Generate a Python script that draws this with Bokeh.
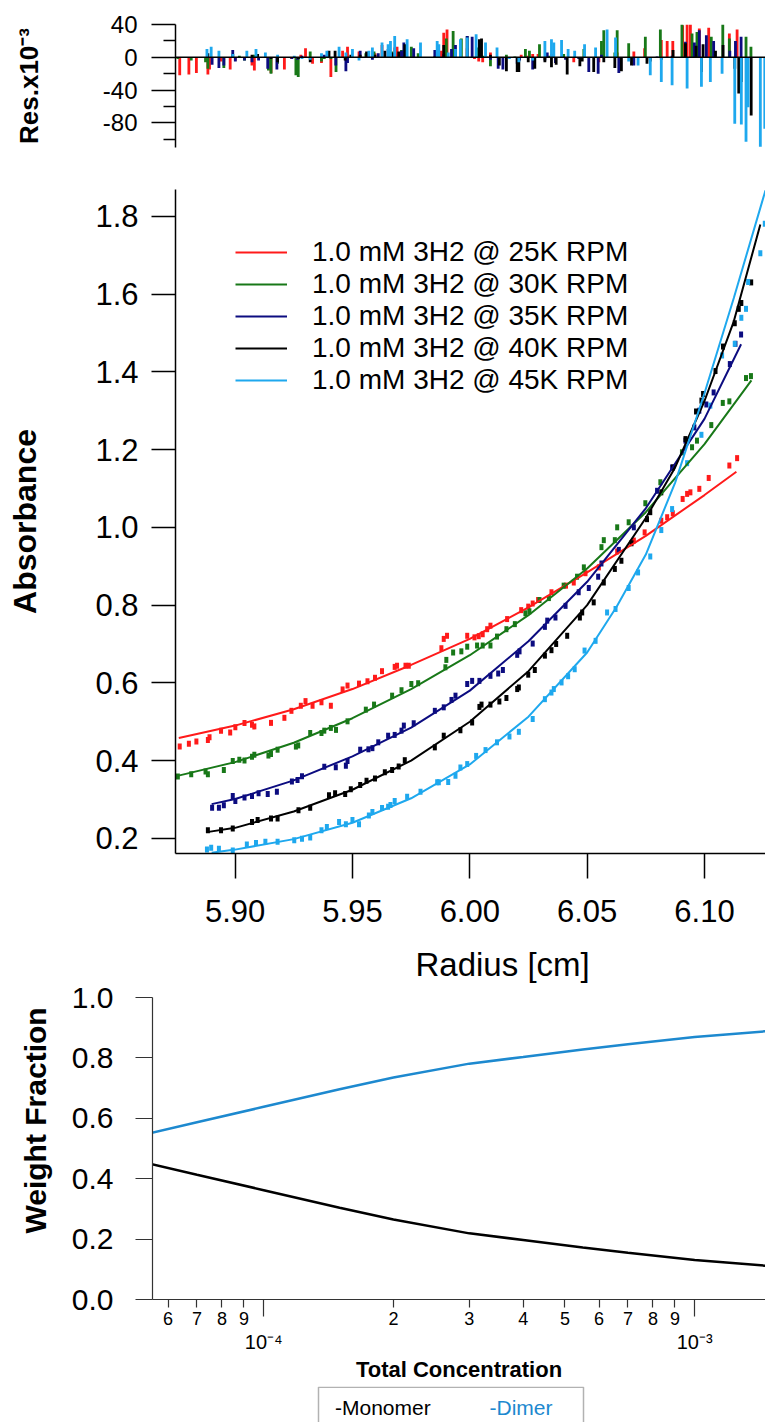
import numpy as np
from bokeh.plotting import figure
from bokeh.models import (Range1d, FixedTicker, PrintfTickFormatter, Label,
                          Legend, LegendItem, Span, LogAxis, Title,
                          BoxAnnotation, Spacer)
from bokeh.layouts import column, row
from bokeh.embed import file_html
from bokeh.resources import INLINE

FONT = "Liberation Sans"

series_labels = ["1.0 mM 3H2 @ 25K RPM", "1.0 mM 3H2 @ 30K RPM",
                 "1.0 mM 3H2 @ 35K RPM", "1.0 mM 3H2 @ 40K RPM",
                 "1.0 mM 3H2 @ 45K RPM"]
series_colors = ["#ff1a1a", "#187818", "#0c0c80", "#000000", "#1ea8ee"]

# ---------------- 25K RPM ----------------
r25_x = [5.8764, 5.8803, 5.8835, 5.8884, 5.8891, 5.8940, 5.8979, 5.9001, 5.9040, 5.9072,
         5.9082, 5.9153, 5.9210, 5.9240, 5.9280, 5.9300, 5.9330, 5.9368, 5.9408, 5.9458,
         5.9479, 5.9528, 5.9564, 5.9596, 5.9626, 5.9680, 5.9690, 5.9726, 5.9740, 5.9879,
         5.9889, 5.9903, 5.9989, 6.0020, 6.0038, 6.0055, 6.0074, 6.0088, 6.0159, 6.0219,
         6.0249, 6.0268, 6.0291, 6.0348, 6.0410, 6.0443, 6.0493, 6.0550, 6.0628, 6.0699,
         6.0745, 6.0816, 6.0841, 6.0865, 6.0907, 6.0926, 6.0940, 6.0978, 6.1018, 6.1106,
         6.1139]
r25_y = [0.436, 0.443, 0.449, 0.453, 0.460, 0.477, 0.472, 0.486, 0.497, 0.492,
         0.488, 0.497, 0.510, 0.528, 0.541, 0.553, 0.541, 0.550, 0.541, 0.583,
         0.593, 0.598, 0.604, 0.613, 0.630, 0.641, 0.644, 0.644, 0.644, 0.689,
         0.713, 0.721, 0.721, 0.717, 0.720, 0.725, 0.738, 0.747, 0.764, 0.787,
         0.796, 0.804, 0.813, 0.833, 0.850, 0.858, 0.882, 0.897, 0.938, 0.966,
         0.987, 1.017, 1.026, 1.036, 1.073, 1.086, 1.090, 1.099, 1.127, 1.159,
         1.178]
r25_res = [-22, -21, -19, -21, -15, -5, -15, -4, 0, -10,
           -16, -19, -15, -2, 3, 11, -8, -7, -24, 8,
           13, 7, 4, 5, 15, 12, 13, 4, 0, 8,
           30, 34, 11, -2, -5, -6, 1, 6, 0, 3,
           2, 4, 4, 4, -2, -6, 0, -6, 6, 7,
           11, 21, 20, 20, 39, 40, 40, 35, 36, 29,
           34]
r25_fit_x = [5.876, 5.90, 5.925, 5.95, 5.975, 6.00, 6.025, 6.05, 6.075, 6.10, 6.1136]
r25_fit_y = [0.458, 0.490, 0.532, 0.584, 0.646, 0.713, 0.794, 0.884, 0.978, 1.083, 1.143]

# ---------------- 30K RPM ----------------
r30_x = [5.8756, 5.8813, 5.8874, 5.8884, 5.8952, 5.8990, 5.9018, 5.9040, 5.9072, 5.9082,
         5.9142, 5.9153, 5.9181, 5.9259, 5.9269, 5.9320, 5.9368, 5.9380, 5.9408, 5.9430,
         5.9479, 5.9557, 5.9592, 5.9669, 5.9709, 5.9751, 5.9780, 5.9896, 5.9900, 5.9929,
         5.9964, 5.9989, 6.0031, 6.0055, 6.0088, 6.0116, 6.0156, 6.0192, 6.0237, 6.0254,
         6.0297, 6.0337, 6.0400, 6.0457, 6.0486, 6.0561, 6.0571, 6.0618, 6.0628, 6.0677,
         6.0748, 6.0812, 6.0904, 6.0947, 6.0968, 6.1029, 6.1078, 6.1106, 6.1177, 6.1198]
r30_y = [0.359, 0.365, 0.372, 0.365, 0.376, 0.399, 0.402, 0.400, 0.410, 0.415,
         0.413, 0.417, 0.428, 0.436, 0.439, 0.471, 0.471, 0.477, 0.484, 0.479,
         0.501, 0.531, 0.544, 0.567, 0.581, 0.597, 0.599, 0.640, 0.659, 0.678,
         0.681, 0.693, 0.696, 0.696, 0.696, 0.719, 0.738, 0.751, 0.779, 0.784,
         0.813, 0.818, 0.850, 0.873, 0.897, 0.949, 0.967, 0.967, 1.000, 1.013,
         1.062, 1.116, 1.193, 1.206, 1.223, 1.263, 1.320, 1.324, 1.384, 1.389]
r30_res = [-2, -4, -6, -14, -13, 4, 2, -4, 0, 3,
           -16, -20, -8, -22, -24, 7, -5, -2, -2, -18,
           -3, 5, 7, 7, 9, 13, 5, 5, 23, 32,
           23, 26, 12, 2, -11, 0, 3, 1, 10, 8,
           16, 2, 4, 0, 10, 20, 33, 6, 33, 17,
           25, 34, 40, 29, 31, 25, 40, 23, 25, 13]
r30_fit_x = [5.875, 5.90, 5.925, 5.95, 5.975, 6.00, 6.025, 6.05, 6.075, 6.10, 6.12]
r30_fit_y = [0.360, 0.396, 0.446, 0.509, 0.584, 0.671, 0.774, 0.894, 1.039, 1.214, 1.378]

# ---------------- 35K RPM ----------------
r35_x = [5.8902, 5.8931, 5.8952, 5.8990, 5.9001, 5.9040, 5.9072, 5.9100, 5.9139, 5.9178,
         5.9242, 5.9266, 5.9285, 5.9380, 5.9429, 5.9472, 5.9479, 5.9533, 5.9568, 5.9585,
         5.9610, 5.9652, 5.9680, 5.9709, 5.9719, 5.9761, 5.9851, 5.9889, 5.9922, 5.9939,
         5.9989, 6.0010, 6.0041, 6.0088, 6.0121, 6.0141, 6.0202, 6.0212, 6.0268, 6.0320,
         6.0330, 6.0365, 6.0408, 6.0464, 6.0507, 6.0547, 6.0561, 6.0635, 6.0699, 6.0798,
         6.0862, 6.0919, 6.0957, 6.0978, 6.1008, 6.1039, 6.1108, 6.1132, 6.1156]
r35_y = [0.279, 0.279, 0.285, 0.309, 0.296, 0.305, 0.309, 0.316, 0.314, 0.320,
         0.346, 0.350, 0.360, 0.384, 0.383, 0.387, 0.399, 0.428, 0.429, 0.432,
         0.447, 0.464, 0.466, 0.477, 0.490, 0.496, 0.528, 0.537, 0.556, 0.567,
         0.597, 0.605, 0.605, 0.618, 0.624, 0.633, 0.672, 0.681, 0.701, 0.744,
         0.760, 0.768, 0.798, 0.833, 0.844, 0.873, 0.907, 0.942, 1.000, 1.094,
         1.154, 1.223, 1.257, 1.300, 1.316, 1.347, 1.420, 1.472, 1.496]
r35_res = [-9, -13, -10, 9, -5, -4, -6, -4, -14, -15,
           -2, -3, 2, 3, -10, -17, -7, 8, -1, -3,
           5, 10, 5, 8, 18, 11, 9, 4, 10, 15,
           26, 25, 9, -3, -14, -15, -8, -4, -15, -4,
           6, -7, -3, -2, -18, -20, 3, -19, -10, 1,
           2, 19, 18, 33, 27, 20, 8, 20, 25]
r35_fit_x = [5.89, 5.90, 5.925, 5.95, 5.975, 6.00, 6.025, 6.05, 6.075, 6.10, 6.1156]
r35_fit_y = [0.288, 0.301, 0.349, 0.411, 0.485, 0.580, 0.707, 0.860, 1.049, 1.279, 1.471]

# ---------------- 40K RPM ----------------
r40_x = [5.8884, 5.8940, 5.8990, 5.9072, 5.9096, 5.9153, 5.9181, 5.9270, 5.9320, 5.9400,
         5.9426, 5.9469, 5.9493, 5.9533, 5.9560, 5.9596, 5.9638, 5.9669, 5.9697, 5.9723,
         5.9851, 5.9889, 5.9960, 6.0010, 6.0041, 6.0050, 6.0088, 6.0126, 6.0156, 6.0202,
         6.0209, 6.0249, 6.0277, 6.0320, 6.0348, 6.0368, 6.0415, 6.0469, 6.0479, 6.0528,
         6.0571, 6.0618, 6.0646, 6.0689, 6.0755, 6.0769, 6.0816, 6.0866, 6.0919, 6.0964,
         6.0987, 6.0994, 6.1047, 6.1079, 6.1129, 6.1146, 6.1157, 6.1199]
r40_y = [0.221, 0.221, 0.225, 0.242, 0.247, 0.251, 0.251, 0.272, 0.279, 0.311,
         0.316, 0.314, 0.326, 0.337, 0.348, 0.354, 0.370, 0.376, 0.385, 0.401,
         0.434, 0.464, 0.478, 0.498, 0.538, 0.544, 0.544, 0.552, 0.561, 0.584,
         0.588, 0.621, 0.633, 0.670, 0.684, 0.700, 0.721, 0.768, 0.781, 0.807,
         0.858, 0.893, 0.914, 0.959, 1.021, 1.039, 1.090, 1.154, 1.227, 1.298,
         1.326, 1.343, 1.402, 1.465, 1.525, 1.562, 1.577, 1.630]
r40_res = [5, -1, -1, 3, 4, -2, -6, -2, -6, 8,
           8, -4, 3, 3, 7, 3, 8, 6, 7, 16,
           1, 15, 0, -1, 22, 23, 3, -10, -17, -18,
           -18, -6, -14, -6, -12, -9, -21, -11, -5, -18,
           -6, -13, -17, -10, -8, -5, -3, 9, 17, 14,
           -18, 16, 8, 15, -14, -44, -30, -71]
r40_fit_x = [5.888, 5.90, 5.925, 5.95, 5.975, 6.00, 6.025, 6.05, 6.075, 6.0875,
             6.10, 6.1125, 6.1238]
r40_fit_y = [0.216, 0.227, 0.269, 0.325, 0.400, 0.500, 0.630, 0.800, 1.024, 1.154,
             1.325, 1.530, 1.779]

# ---------------- 45K RPM ----------------
r45_x = [5.8880, 5.8898, 5.8931, 5.8990, 5.9050, 5.9089, 5.9129, 5.9181, 5.9252, 5.9285,
         5.9320, 5.9368, 5.9391, 5.9443, 5.9472, 5.9500, 5.9528, 5.9570, 5.9585, 5.9626,
         5.9652, 5.9662, 5.9680, 5.9733, 5.9790, 5.9861, 5.9868, 5.9908, 5.9939, 5.9960,
         5.9989, 6.0027, 6.0067, 6.0116, 6.0169, 6.0209, 6.0268, 6.0320, 6.0348, 6.0358,
         6.0391, 6.0419, 6.0447, 6.0489, 6.0536, 6.0585, 6.0621, 6.0677, 6.0717, 6.0769,
         6.0816, 6.0862, 6.0926, 6.0987, 6.1025, 6.1075, 6.1129, 6.1157, 6.1177, 6.1186,
         6.1238, 6.1257]
r45_y = [0.171, 0.176, 0.173, 0.169, 0.184, 0.188, 0.191, 0.191, 0.195, 0.199,
         0.202, 0.221, 0.229, 0.242, 0.236, 0.247, 0.236, 0.259, 0.268, 0.278,
         0.281, 0.286, 0.296, 0.307, 0.320, 0.344, 0.344, 0.345, 0.361, 0.382,
         0.391, 0.412, 0.427, 0.447, 0.462, 0.474, 0.507, 0.558, 0.575, 0.584,
         0.601, 0.617, 0.635, 0.683, 0.708, 0.781, 0.790, 0.844, 0.884, 0.925,
         0.993, 1.047, 1.165, 1.238, 1.313, 1.442, 1.472, 1.539, 1.562, 1.631,
         1.705, 1.781]
r45_res = [10, 13, 8, 4, 8, 10, 6, 3, 2, -2,
           -3, 5, 8, 13, 6, 10, -4, 8, 12, 18,
           16, 20, 26, 22, 18, 20, 16, 6, 10, 22,
           24, 28, 18, 12, -2, -6, -4, 20, 22, 18,
           21, 10, 8, 16, 12, 34, 24, -5, -10, -22,
           -30, -34, -38, -36, -30, -20, -81, -82, -103, -61,
           -109, -87]
r45_fit_x = [5.89, 5.90, 5.925, 5.95, 5.975, 6.00, 6.025, 6.05, 6.0625, 6.075,
             6.0875, 6.10, 6.1125, 6.126]
r45_fit_y = [0.163, 0.171, 0.198, 0.240, 0.303, 0.390, 0.513, 0.678, 0.795, 0.930,
             1.115, 1.345, 1.590, 1.867]

# ---------------- weight fractions ----------------
conc = [5.5e-5, 7e-5, 1e-4, 1.5e-4, 2e-4, 3e-4, 4e-4, 5.5e-4, 7e-4, 1e-3, 1.46e-3]
monomer_frac = [0.448, 0.413, 0.362, 0.304, 0.265, 0.219, 0.197, 0.172, 0.155, 0.131, 0.112]
dimer_frac = [0.552, 0.587, 0.638, 0.696, 0.735, 0.781, 0.803, 0.828, 0.845, 0.869, 0.888]
dimer_color = "#1d89cf"
fraction_labels = ["-Monomer", "-Dimer"]

# ---------------- axes ----------------
radius_range = (5.8746, 6.126)
abs_range = (0.161, 1.869)
res_range = (-110, 40)
conc_range = (5.52e-5, 1.46e-3)

res_ticks = [-80, -40, 0, 40]
res_minor_ticks = [-100, -60, -20, 20]
abs_ticks = [0.2, 0.4, 0.6, 0.8, 1.0, 1.2, 1.4, 1.6, 1.8]
radius_ticks = [5.90, 5.95, 6.00, 6.05, 6.10]
wf_ticks = [0.0, 0.2, 0.4, 0.6, 0.8, 1.0]
conc_ticks = [6e-5, 7e-5, 8e-5, 9e-5, 2e-4, 3e-4, 4e-4, 5e-4, 6e-4, 7e-4, 8e-4, 9e-4]
conc_tick_labels = ["6", "7", "8", "9", "2", "3", "4", "5", "6", "7", "8", "9"]
conc_decades = [1e-4, 1e-3]
decade_labels = ["10\u207b\u2074", "10\u207b\u00b3"]

series = [
    (r25_x, r25_y, r25_res, r25_fit_x, r25_fit_y),
    (r30_x, r30_y, r30_res, r30_fit_x, r30_fit_y),
    (r35_x, r35_y, r35_res, r35_fit_x, r35_fit_y),
    (r40_x, r40_y, r40_res, r40_fit_x, r40_fit_y),
    (r45_x, r45_y, r45_res, r45_fit_x, r45_fit_y),
]


def style_axis(ax, size, tick_out, standoff, width=1.5, color="black"):
    ax.axis_line_color = color
    ax.axis_line_width = width
    ax.major_tick_line_color = color
    ax.major_tick_line_width = width
    ax.major_tick_out = tick_out
    ax.major_tick_in = 0
    ax.minor_tick_line_color = None
    ax.minor_tick_out = 0
    ax.minor_tick_in = 0
    ax.major_label_text_font = FONT
    ax.major_label_text_font_size = size
    ax.major_label_text_color = "black"
    ax.major_label_standoff = standoff


def style_label(ax, text, size, standoff, bold=True):
    ax.axis_label = text
    ax.axis_label_text_font = FONT
    ax.axis_label_text_font_size = size
    ax.axis_label_text_font_style = "bold" if bold else "normal"
    ax.axis_label_text_color = "black"
    ax.axis_label_standoff = standoff


def overrides_for(ticks, labels):
    out = {}
    for t, lbl in zip(ticks, labels):
        out[t] = lbl
        out[np.format_float_positional(t)] = lbl
    return out


def clean(p):
    p.outline_line_color = None
    p.grid.visible = False
    p.background_fill_color = "white"
    p.border_fill_color = "white"
    try:
        p.frame_align = False
    except Exception:
        pass


xr = Range1d(*radius_range)

# ---------------- residual panel ----------------
top = figure(width=765, height=170, x_range=xr, y_range=Range1d(*res_range),
             output_backend="svg", toolbar_location=None, x_axis_location=None,
             min_border_left=175, min_border_right=0, min_border_top=24,
             min_border_bottom=23)
clean(top)
for (sx, sy, sres, fx, fy), col in zip(series, series_colors):
    top.vbar(x=sx, top=sres, bottom=0, width=0.0012, fill_color=col, line_color=None)
top.add_layout(Span(location=0, dimension="width", line_color="black", line_width=1.5))
ya = top.yaxis[0]
ya.ticker = FixedTicker(ticks=res_ticks, minor_ticks=res_minor_ticks)
ya.formatter = PrintfTickFormatter(format="%d")
style_axis(ya, "24px", 24, 14, width=1.5)
ya.minor_tick_line_color = "black"
ya.minor_tick_line_width = 1.5
ya.minor_tick_out = 12
style_label(ya, "Res.x10\u207b\u00b3", "26px", 56)

# ---------------- main panel ----------------
main = figure(width=765, height=759, x_range=xr, y_range=Range1d(*abs_range),
              output_backend="svg", toolbar_location=None,
              min_border_left=175, min_border_right=0, min_border_top=19,
              min_border_bottom=76)
clean(main)
fit_renderers = []
for (sx, sy, sres, fx, fy), col in zip(series, series_colors):
    main.rect(x=sx, y=sy, width=4, height=6, width_units="screen",
              height_units="screen", fill_color=col, line_color=None)
for (sx, sy, sres, fx, fy), col in zip(series, series_colors):
    fit_renderers.append(main.line(fx, fy, line_color=col, line_width=2))

xa = main.xaxis[0]
xa.ticker = FixedTicker(ticks=radius_ticks)
xa.formatter = PrintfTickFormatter(format="%.2f")
style_axis(xa, "31px", 25, 21)
ya = main.yaxis[0]
ya.ticker = FixedTicker(ticks=abs_ticks)
ya.formatter = PrintfTickFormatter(format="%.1f")
style_axis(ya, "31px", 24, 13)
style_label(ya, "Absorbance", "32px", 49)

legend = Legend(items=[LegendItem(label=l, renderers=[r])
                       for l, r in zip(series_labels, fit_renderers)],
                location=(60, 457), orientation="vertical",
                glyph_width=52, glyph_height=32, label_height=32,
                label_standoff=25, spacing=0, padding=0, margin=0,
                label_text_font=FONT, label_text_font_size="28px",
                label_text_color="black", border_line_color=None,
                background_fill_alpha=0)
main.add_layout(legend)

# ---------------- weight fraction panel ----------------
bot = figure(width=765, height=457, x_axis_type="log", x_range=Range1d(*conc_range),
             y_range=Range1d(0, 1), output_backend="svg", toolbar_location=None,
             min_border_left=152, min_border_right=0, min_border_top=68,
             min_border_bottom=87)
clean(bot)
mono_r = bot.line(conc, monomer_frac, line_color="black", line_width=2.5)
dim_r = bot.line(conc, dimer_frac, line_color=dimer_color, line_width=2.5)

xa = bot.xaxis[0]
xa.ticker = FixedTicker(ticks=conc_ticks, minor_ticks=conc_decades)
xa.major_label_overrides = overrides_for(conc_ticks, conc_tick_labels)
style_axis(xa, "18px", 8, -5, width=1.2, color="#333333")
xa.minor_tick_line_color = "#333333"
xa.minor_tick_line_width = 1.2
xa.minor_tick_out = 17

dec_axis = LogAxis(ticker=FixedTicker(ticks=conc_decades))
dec_axis.major_label_overrides = overrides_for(conc_decades, decade_labels)
style_axis(dec_axis, "20px", 0, 3)
dec_axis.axis_line_color = None
dec_axis.major_tick_line_color = None
style_label(dec_axis, "Total Concentration", "22px", 1)
bot.add_layout(dec_axis, "below")

ya = bot.yaxis[0]
ya.ticker = FixedTicker(ticks=wf_ticks)
ya.formatter = PrintfTickFormatter(format="%.1f")
style_axis(ya, "30px", 17, 22, width=1.2, color="#333333")
bot.add_layout(Title(text="Weight Fraction", align="left", offset=66, standoff=32,
                     vertical_align="middle", text_font=FONT,
                     text_font_size="30px", text_font_style="bold",
                     text_color="black"), "left")
bot.add_layout(Title(text="Radius [cm]", align="left", offset=263, standoff=27,
                     vertical_align="middle", text_font=FONT,
                     text_font_size="33px", text_font_style="normal",
                     text_color="black"), "above")

# ---------------- legend box ----------------
legfig = figure(width=269, height=36, x_range=Range1d(0, 269), y_range=Range1d(0, 36),
                output_backend="svg", toolbar_location=None,
                x_axis_location=None, y_axis_location=None,
                min_border_left=0, min_border_right=0, min_border_top=0,
                min_border_bottom=0)
clean(legfig)
legfig.add_layout(BoxAnnotation(left=2, right=267, top=35.2, bottom=-10,
                                fill_alpha=0, line_color="black", line_width=1.5))
legfig.add_layout(Label(x=18.5, y=15.5, text=fraction_labels[0], text_font=FONT,
                        text_font_size="21px", text_color="black",
                        text_align="left", text_baseline="middle"))
legfig.add_layout(Label(x=173, y=15.5, text=fraction_labels[1], text_font=FONT,
                        text_font_size="21px", text_color=dimer_color,
                        text_align="left", text_baseline="middle"))

layout = column(top, main, bot, row(Spacer(width=316, height=36), legfig),
                spacing=0)
open("out.html", "w").write(file_html(layout, INLINE))
